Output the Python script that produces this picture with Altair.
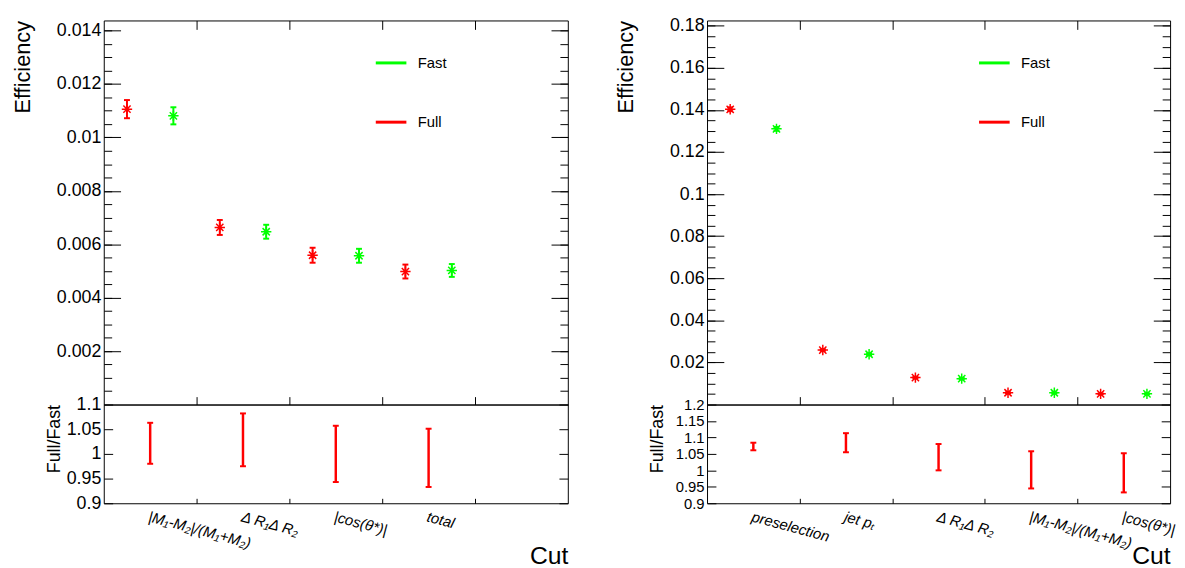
import json
import altair as alt
import pandas as pd

FONT = "Liberation Sans"

# ---------------- data: left panel ----------------
left_cuts = ["|M₁-M₂|/(M₁+M₂)", "Δ R₁Δ R₂", "|cos(θ*)|", "total"]
left_nbins = 5
left_full = [0.01106, 0.00663, 0.00559, 0.00498]
left_full_err = [0.00034, 0.00028, 0.00028, 0.00026]
left_fast = [0.01081, 0.00647, 0.00557, 0.00502]
left_fast_err = [0.00032, 0.00026, 0.00026, 0.00024]
left_ratio_lo = [0.980, 0.975, 0.943, 0.933]
left_ratio_hi = [1.063, 1.082, 1.057, 1.051]

# ---------------- data: right panel ----------------
right_cuts = ["preselection", "jet pₜ", "Δ R₁Δ R₂", "|M₁-M₂|/(M₁+M₂)", "|cos(θ*)|"]
right_nbins = 5
right_full = [0.1403, 0.0259, 0.0128, 0.0056, 0.0051]
right_full_err = [0.0009, 0.0004, 0.0003, 0.0002, 0.0002]
right_fast = [0.1310, 0.0239, 0.0123, 0.0056, 0.0051]
right_fast_err = [0.0009, 0.0004, 0.0003, 0.0002, 0.0002]
right_ratio_lo = [1.061, 1.055, 1.000, 0.945, 0.933]
right_ratio_hi = [1.084, 1.113, 1.080, 1.058, 1.052]

# ---------------- axis tick values ----------------
left_y_major = [0.002, 0.004, 0.006, 0.008, 0.01, 0.012, 0.014]
left_y_minor = [round(0.0005 * i, 4) for i in range(1, 29)]
right_y_major = [0.02, 0.04, 0.06, 0.08, 0.1, 0.12, 0.14, 0.16, 0.18]
right_y_minor = [round(0.005 * i, 3) for i in range(1, 37)]
left_r_ticks = [0.9, 0.95, 1.0, 1.05, 1.1]
right_r_ticks = [0.9, 0.95, 1.0, 1.05, 1.1, 1.15, 1.2]

ASTERISK = "M-1,0L1,0M0,-1L0,1M-0.7,-0.7L0.7,0.7M-0.7,0.7L0.7,-0.7"


def plain_axis(**kw):
    base = dict(domain=False, grid=False, labels=False, title=None,
                minExtent=0, tickColor="black", tickWidth=1)
    base.update(kw)
    return alt.Axis(**base)


def panel(cuts, nbins, full, full_err, fast, fast_err, rlo, rhi,
          ymax, ymaj, ymin, rdom, rticks, width, rfont):
    n = len(cuts)
    eff = pd.DataFrame({
        "bin": list(range(n)) * 2,
        "sample": ["Full"] * n + ["Fast"] * n,
        "eff": full + fast,
        "err": full_err + fast_err,
    })
    ratio = pd.DataFrame({"bin": list(range(n)), "lo": rlo, "hi": rhi})
    edges = list(range(1, nbins))
    centers = [i + 0.5 for i in range(n)]

    xs = alt.Scale(domain=[0, nbins], nice=False, zero=False)
    ys = alt.Scale(domain=[0, ymax], nice=False, zero=False)
    rs = alt.Scale(domain=rdom, nice=False, zero=False)

    legend = alt.Legend(
        orient="none", legendX=274, legendY=26, title=None, padding=0,
        symbolType="stroke", symbolSize=961, symbolStrokeWidth=3,
        symbolOpacity=1, labelFontSize=15, labelFont=FONT, labelColor="black",
        labelOffset=10, rowPadding=35, direction="vertical",
    )
    color = alt.Color("sample:N", legend=legend,
                      scale=alt.Scale(domain=["Fast", "Full"],
                                      range=["#00ff00", "#ff0000"]))

    base = alt.Chart(eff).transform_calculate(
        xpos="datum.bin + (datum.sample == 'Full' ? 0.25 : 0.75)",
        lo="datum.eff - datum.err",
        hi="datum.eff + datum.err",
    )

    y_left = alt.Axis(
        orient="left", values=ymaj, tickSize=17, offset=-17, domain=False,
        grid=False, format="~g", labelFontSize=18, labelPadding=3,
        labelColor="black", tickColor="black", title="Efficiency",
        titleFontSize=22, titleFontWeight="normal", titleAnchor="end",
        titlePadding=22, minExtent=65, maxExtent=65, titleColor="black",
        labelOverlap=False, labelFlush=False,
    )

    bars = base.mark_rule(strokeWidth=2, opacity=1).encode(
        x=alt.X("xpos:Q", scale=xs,
                axis=plain_axis(orient="top", values=edges, tickSize=9, offset=-9)),
        y=alt.Y("lo:Q", scale=ys, axis=y_left),
        y2="hi:Q",
        color=color,
    )
    caps = base.transform_fold(["lo", "hi"], as_=["end", "yv"]).mark_tick(
        orient="horizontal", size=6, thickness=2, opacity=1
    ).encode(
        x=alt.X("xpos:Q", scale=xs,
                axis=plain_axis(orient="bottom", values=edges, tickSize=8, offset=-8)),
        y=alt.Y("yv:Q", scale=ys,
                axis=plain_axis(orient="left", values=ymin, tickSize=8, offset=-8)),
        color=color,
    )
    stars = base.mark_point(shape=ASTERISK, size=110, strokeWidth=1.5,
                            filled=False, opacity=1).encode(
        x=alt.X("xpos:Q", scale=xs, axis=None),
        y=alt.Y("eff:Q", scale=ys,
                axis=plain_axis(orient="right", values=ymaj, tickSize=17, offset=-17)),
        color=color,
    )
    ghost = base.mark_point(opacity=0).encode(
        x=alt.X("xpos:Q", scale=xs, axis=None),
        y=alt.Y("eff:Q", scale=ys,
                axis=plain_axis(orient="right", values=ymin, tickSize=8, offset=-8)),
    )
    top = alt.layer(bars, caps, stars, ghost).resolve_axis(
        x="independent", y="independent"
    ).properties(width=width, height=389)

    # ---- ratio panel ----
    rbase = alt.Chart(ratio).transform_calculate(xpos="datum.bin + 0.5")
    label_expr = json.dumps(cuts, ensure_ascii=False) + "[floor(datum.value)]"
    x_lab = alt.Axis(
        orient="bottom", values=centers, ticks=False, domain=False, grid=False,
        labelExpr=label_expr, labelAngle=15, labelAlign="left",
        labelBaseline="top", labelPadding=6, labelFontSize=15,
        labelFontStyle="italic", labelColor="black", labelOverlap=False,
        labelFlush=False, title="Cut", titleFontSize=25,
        titleFontWeight="normal", titleAnchor="end", titlePadding=1,
        minExtent=40, maxExtent=40, titleColor="black",
    )
    y_rl = alt.Axis(
        orient="left", values=rticks, tickSize=9, offset=-9, domain=False,
        grid=False, format="~g", labelFontSize=rfont, labelPadding=3,
        labelColor="black", tickColor="black", title="Full/Fast",
        titleFontSize=18, titleFontWeight="normal", titleAnchor="end",
        titlePadding=1, minExtent=49, maxExtent=49, titleColor="black",
        labelOverlap=False, labelFlush=False,
    )
    rbars = rbase.mark_rule(
        strokeWidth=2.5, color="#ff0000", opacity=1
    ).encode(
        x=alt.X("xpos:Q", scale=xs, axis=x_lab),
        y=alt.Y("lo:Q", scale=rs, axis=y_rl),
        y2="hi:Q",
    )
    rcaps = rbase.transform_fold(["lo", "hi"], as_=["end", "yv"]).mark_tick(
        orient="horizontal", size=6, thickness=2, color="#ff0000", opacity=1
    ).encode(
        x=alt.X("xpos:Q", scale=xs,
                axis=plain_axis(orient="bottom", values=edges, tickSize=5, offset=-5)),
        y=alt.Y("yv:Q", scale=rs,
                axis=plain_axis(orient="right", values=rticks, tickSize=9, offset=-9)),
    )
    bottom = alt.layer(rbars, rcaps).resolve_axis(
        x="independent", y="independent"
    ).properties(width=width, height=100)

    return alt.vconcat(top, bottom, spacing=0, bounds="flush").resolve_legend(
        color="independent"
    )


left = panel(left_cuts, left_nbins, left_full, left_full_err, left_fast,
             left_fast_err, left_ratio_lo, left_ratio_hi, 0.01438,
             left_y_major, left_y_minor, [0.9, 1.1], left_r_ticks, 470, 18)
right = panel(right_cuts, right_nbins, right_full, right_full_err, right_fast,
              right_fast_err, right_ratio_lo, right_ratio_hi, 0.1825,
              right_y_major, right_y_minor, [0.9, 1.2], right_r_ticks, 469, 15)

chart = alt.hconcat(left, right, spacing=46).properties(
    padding={"left": 3, "top": 4, "right": 0, "bottom": 0}
).configure_view(stroke="black", strokeWidth=1).configure_axis(
    labelFont=FONT, titleFont=FONT
).configure_legend(labelFont=FONT)

chart.save("out.html", embed_options={"renderer": "svg", "actions": False})
